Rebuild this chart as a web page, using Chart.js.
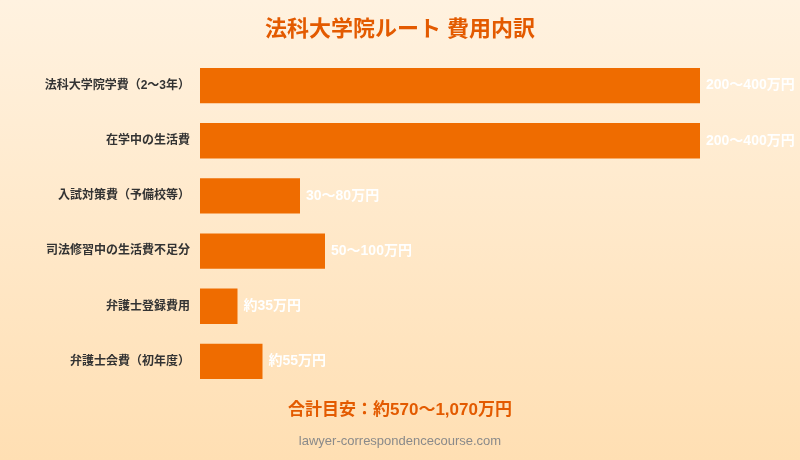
<!DOCTYPE html>
<html>
<head>
<meta charset="utf-8">
<script src="https://cdn.jsdelivr.net/npm/chart.js@4"></script>
<style>
  html, body { margin: 0; padding: 0; }
  body { width: 800px; height: 460px; background: linear-gradient(180deg, #fff2e0 0%, #ffdfb3 100%); }
  #wrap { width: 800px; height: 460px; position: relative; }
</style>
</head>
<body>
<div id="wrap"><canvas id="cost"></canvas></div>
<script>
const categories = [
    '法科大学院学費（2〜3年）',
    '在学中の生活費',
    '入試対策費（予備校等）',
    '司法修習中の生活費不足分',
    '弁護士登録費用',
    '弁護士会費（初年度）'
]
// bar length (万円, upper estimate as drawn)
const barValues = [400, 400, 80, 100, 30, 50]
const valueLabels = ['200〜400万円', '200〜400万円', '30〜80万円', '50〜100万円', '約35万円', '約55万円']
const titleText = '法科大学院ルート 費用内訳'
const totalText = '合計目安：約570〜1,070万円'
const footerText = 'lawyer-correspondencecourse.com'

const jpFont = "'Helvetica Neue', Arial, 'Noto Sans CJK JP', sans-serif"

const textPlugin = {
    id: 'texts',
    afterDatasetsDraw(chart) {
        const ctx = chart.ctx
        ctx.save()
        // value labels next to bars
        ctx.fillStyle = '#ffffff'
        ctx.font = 'bold 14px ' + jpFont
        ctx.textAlign = 'left'
        ctx.textBaseline = 'middle'
        chart.getDatasetMeta(0).data.forEach((bar, i) => {
            ctx.fillText(valueLabels[i], bar.x + 6, bar.y)
        })
        // title and bottom texts
        ctx.textAlign = 'center'
        ctx.fillStyle = '#e35a00'
        ctx.font = 'bold 22px ' + jpFont
        ctx.fillText(titleText, 400, 30)
        ctx.font = 'bold 17px ' + jpFont
        ctx.fillText(totalText, 400, 410)
        ctx.fillStyle = '#8a8a8a'
        ctx.font = '13px ' + jpFont
        ctx.fillText(footerText, 400, 441)
        ctx.restore()
    }
}

new Chart(document.getElementById('cost').getContext('2d'), {
    type: 'bar',
    plugins: [textPlugin],
    data: {
        labels: categories,
        datasets: [{
            data: barValues,
            backgroundColor: '#ef6c00',
            borderWidth: 0,
            barPercentage: 0.64,
            categoryPercentage: 1
        }]
    },
    options: {
        indexAxis: 'y',
        responsive: true,
        maintainAspectRatio: false,
        animation: false,
        layout: { padding: { left: 0, right: 100, top: 58, bottom: 71 } },
        plugins: {
            legend: { display: false },
            tooltip: { enabled: false }
        },
        scales: {
            x: {
                min: 0,
                max: 400,
                display: false
            },
            y: {
                grid: { display: false },
                border: { display: false },
                ticks: {
                    color: '#333333',
                    padding: 2,
                    font: { size: 12, weight: 'bold', family: jpFont }
                },
                afterFit(axis) { axis.width = 200 }
            }
        }
    }
})
</script>
</body>
</html>
